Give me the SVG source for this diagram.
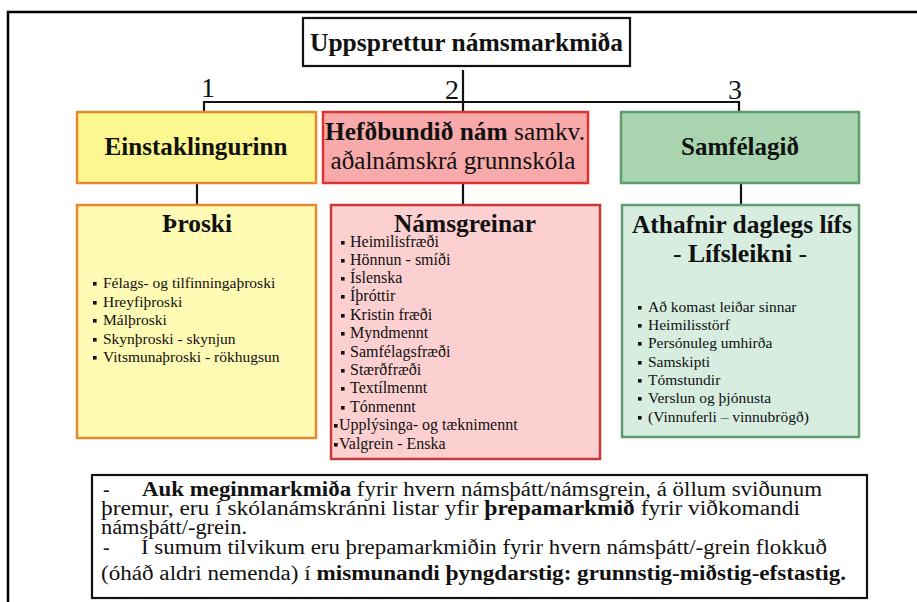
<svg xmlns="http://www.w3.org/2000/svg" width="917" height="602" viewBox="0 0 917 602" font-family="Liberation Serif">
<defs>
  <rect id="bul" width="3.6" height="3.6" fill="#111"/>
</defs>

<g id="frame" stroke="#000" stroke-width="2.5" fill="none">
  <path d="M917,12 H8 V602"/>
</g>

<g id="connectors">
  <g stroke="#111" stroke-width="2.2" fill="none">
    <path d="M463,70 V112"/>
    <path d="M204,112 V102 H739 V112"/>
    <path d="M197,183 V205"/>
    <path d="M463,183 V205"/>
    <path d="M741,183 V205"/>
  </g>
  <g font-size="28" text-anchor="middle" fill="#111">
    <text x="208" y="97" font-family="Liberation Serif">1</text>
    <text x="452" y="99" font-family="Liberation Serif">2</text>
    <text x="735" y="99" font-family="Liberation Serif">3</text>
  </g>
</g>

<g id="title">
  <rect x="303" y="18" width="327" height="48" fill="#fff" stroke="#111" stroke-width="2.2"/>
  <text x="466.5" y="51" font-family="Liberation Serif" font-size="25.5" font-weight="bold" text-anchor="middle" fill="#111" textLength="313" lengthAdjust="spacingAndGlyphs">Uppsprettur námsmarkmiða</text>
</g>

<g id="einstaklingurinn">
  <rect x="77" y="112" width="239" height="71" fill="#fdf78f" stroke="#e58a30" stroke-width="2.5"/>
  <text x="196" y="155" font-family="Liberation Serif" font-size="25" font-weight="bold" text-anchor="middle" fill="#111" textLength="183" lengthAdjust="spacingAndGlyphs">Einstaklingurinn</text>
</g>

<g id="hefdbundid">
  <rect x="323" y="112" width="265" height="71" fill="#f8a9a9" stroke="#dd3333" stroke-width="2.5"/>
  <g font-size="25" text-anchor="middle" fill="#111" font-family="Liberation Serif">
    <text x="455" y="140" textLength="260" lengthAdjust="spacingAndGlyphs"><tspan font-weight="bold">Hefðbundið nám</tspan> samkv.</text>
    <text x="453" y="169" textLength="245" lengthAdjust="spacingAndGlyphs">aðalnámskrá grunnskóla</text>
  </g>
</g>

<g id="samfelagid">
  <rect x="621" y="112" width="238" height="71" fill="#a8d5b0" stroke="#5e9c6e" stroke-width="2.5"/>
  <text x="740" y="155" font-family="Liberation Serif" font-size="25" font-weight="bold" text-anchor="middle" fill="#111" textLength="118" lengthAdjust="spacingAndGlyphs">Samfélagið</text>
</g>

<g id="throski" fill="#111" font-family="Liberation Serif">
  <rect x="77" y="205" width="239" height="233" fill="#fffab4" stroke="#e58a30" stroke-width="2.5"/>
  <text x="197" y="232" font-size="25" font-weight="bold" text-anchor="middle" textLength="70" lengthAdjust="spacingAndGlyphs">Þroski</text>
  <use href="#bul" x="93" y="282"/>
  <use href="#bul" x="93" y="301"/>
  <use href="#bul" x="93" y="319"/>
  <use href="#bul" x="93" y="338"/>
  <use href="#bul" x="93" y="356"/>
  <text font-size="15.5">
    <tspan x="103" y="288">Félags- og tilfinningaþroski</tspan>
    <tspan x="103" y="307">Hreyfiþroski</tspan>
    <tspan x="103" y="325">Málþroski</tspan>
    <tspan x="103" y="344">Skynþroski - skynjun</tspan>
    <tspan x="103" y="362">Vitsmunaþroski - rökhugsun</tspan>
  </text>
</g>

<g id="namsgreinar" fill="#111" font-family="Liberation Serif">
  <rect x="331" y="205" width="269" height="254" fill="#fcd0d0" stroke="#c83a3a" stroke-width="2.5"/>
  <text x="465" y="232" font-size="25" font-weight="bold" text-anchor="middle" textLength="142" lengthAdjust="spacingAndGlyphs">Námsgreinar</text>
  <use href="#bul" x="341" y="241"/>
  <use href="#bul" x="341" y="259"/>
  <use href="#bul" x="341" y="277"/>
  <use href="#bul" x="341" y="295"/>
  <use href="#bul" x="341" y="314"/>
  <use href="#bul" x="341" y="332"/>
  <use href="#bul" x="341" y="351"/>
  <use href="#bul" x="341" y="369"/>
  <use href="#bul" x="341" y="387"/>
  <use href="#bul" x="341" y="406"/>
  <use href="#bul" x="334" y="424"/>
  <use href="#bul" x="334" y="443"/>
  <text font-size="16">
    <tspan x="350" y="247">Heimilisfræði</tspan>
    <tspan x="350" y="265">Hönnun - smíði</tspan>
    <tspan x="350" y="283">Íslenska</tspan>
    <tspan x="350" y="301">Íþróttir</tspan>
    <tspan x="350" y="320">Kristin fræði</tspan>
    <tspan x="350" y="338">Myndmennt</tspan>
    <tspan x="350" y="357">Samfélagsfræði</tspan>
    <tspan x="350" y="375">Stærðfræði</tspan>
    <tspan x="350" y="393">Textílmennt</tspan>
    <tspan x="350" y="412">Tónmennt</tspan>
    <tspan x="339" y="430">Upplýsinga- og tæknimennt</tspan>
    <tspan x="339" y="449">Valgrein - Enska</tspan>
  </text>
</g>

<g id="athafnir" fill="#111" font-family="Liberation Serif">
  <rect x="622" y="205" width="237" height="232" fill="#d6ede0" stroke="#5e9c6e" stroke-width="2.5"/>
  <text x="742" y="233" font-size="25" font-weight="bold" text-anchor="middle" textLength="220" lengthAdjust="spacingAndGlyphs">Athafnir daglegs lífs</text>
  <text x="740" y="262" font-size="25" text-anchor="middle" textLength="134" lengthAdjust="spacingAndGlyphs">- <tspan font-weight="bold">Lífsleikni</tspan> -</text>
  <use href="#bul" x="638" y="306"/>
  <use href="#bul" x="638" y="324"/>
  <use href="#bul" x="638" y="342"/>
  <use href="#bul" x="638" y="361"/>
  <use href="#bul" x="638" y="379"/>
  <use href="#bul" x="638" y="397"/>
  <use href="#bul" x="638" y="416"/>
  <text font-size="15.5">
    <tspan x="648" y="312">Að komast leiðar sinnar</tspan>
    <tspan x="648" y="330">Heimilisstörf</tspan>
    <tspan x="648" y="348">Persónuleg umhirða</tspan>
    <tspan x="648" y="367">Samskipti</tspan>
    <tspan x="648" y="385">Tómstundir</tspan>
    <tspan x="648" y="403">Verslun og þjónusta</tspan>
    <tspan x="648" y="422">(Vinnuferli – vinnubrögð)</tspan>
  </text>
</g>

<g id="note" fill="#111" font-size="20" font-family="Liberation Serif">
  <rect x="92" y="475" width="775" height="123" fill="#fff" stroke="#111" stroke-width="2.2"/>
  <text x="103" y="496">-</text>
  <text x="142" y="496" textLength="680" lengthAdjust="spacingAndGlyphs"><tspan font-weight="bold">Auk meginmarkmiða</tspan> fyrir hvern námsþátt/námsgrein, á öllum sviðunum</text>
  <text x="101" y="515" textLength="699" lengthAdjust="spacingAndGlyphs">þremur, eru í skólanámskránni listar yfir <tspan font-weight="bold">þrepamarkmið</tspan> fyrir viðkomandi</text>
  <text x="101" y="534" textLength="146" lengthAdjust="spacingAndGlyphs">námsþátt/-grein.</text>
  <text x="103" y="554">-</text>
  <text x="141" y="554" textLength="686" lengthAdjust="spacingAndGlyphs">Í sumum tilvikum eru þrepamarkmiðin fyrir hvern námsþátt/-grein flokkuð</text>
  <text x="101" y="580" textLength="745" lengthAdjust="spacingAndGlyphs">(óháð aldri nemenda) í <tspan font-weight="bold">mismunandi þyngdarstig: grunnstig-miðstig-efstastig.</tspan></text>
</g>
</svg>
